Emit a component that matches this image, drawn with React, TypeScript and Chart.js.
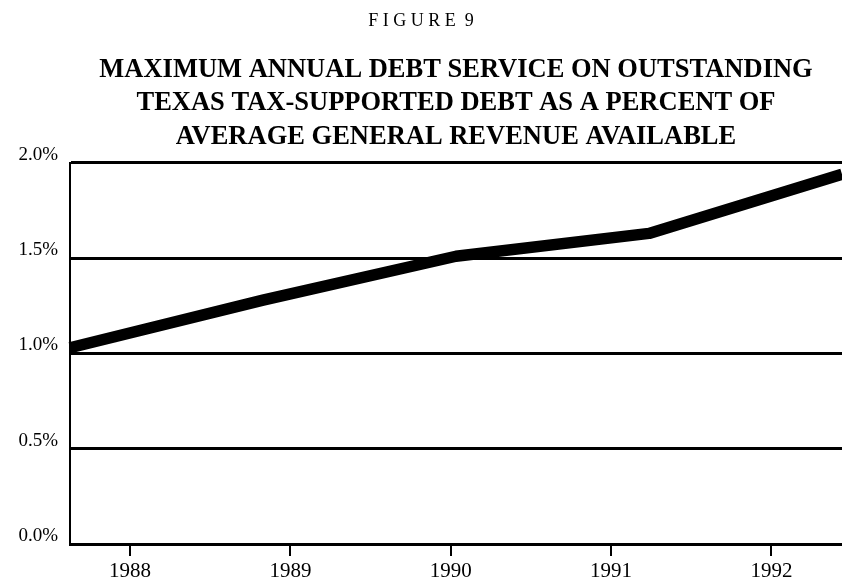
import React, { useEffect, useRef } from "react";
import { Chart, registerables } from "chart.js";

Chart.register(...registerables);

// Data
const fiscalYears = ["1988", "1989", "1990", "1991", "1992"];
const debtServicePct = [1.03, 1.28, 1.51, 1.63, 1.94];
const yearTicks = [1988, 1989, 1990, 1991, 1992];
const yTickValues = [0, 0.5, 1.0, 1.5, 2.0];
const figureLabel = "F I G U R E  9";
const titleLines = [
  "MAXIMUM ANNUAL DEBT SERVICE ON OUTSTANDING",
  "TEXAS TAX-SUPPORTED DEBT AS A PERCENT OF",
  "AVERAGE GENERAL REVENUE AVAILABLE",
];

const SERIF = "'Liberation Serif', 'DejaVu Serif', serif";

export default function App() {
  const ref = useRef<HTMLCanvasElement | null>(null);

  useEffect(() => {
    document.body.style.margin = "0";
    const canvas = ref.current;
    if (!canvas) return;
    const chart = new Chart(canvas, {
      type: "line",
      data: {
        labels: fiscalYears,
        datasets: [
          {
            data: debtServicePct,
            xAxisID: "xl",
            yAxisID: "y",
            borderColor: "#000",
            backgroundColor: "#000",
            borderWidth: 11.5,
            pointRadius: 0,
            tension: 0,
            borderJoinStyle: "round",
            borderCapStyle: "butt",
            fill: false,
          },
        ],
      },
      options: {
        responsive: false,
        animation: false,
        devicePixelRatio: 1,
        layout: { padding: { left: 0, right: 0, top: 0, bottom: 0 } },
        plugins: {
          legend: { display: false },
          tooltip: { enabled: false },
          title: {
            display: true,
            text: figureLabel,
            color: "#000",
            font: { family: SERIF, size: 18, weight: "normal", lineHeight: 1.2 },
            padding: { top: 10, bottom: 0 },
          },
          subtitle: {
            display: true,
            fullSize: false,
            text: titleLines,
            color: "#000",
            font: { family: SERIF, size: 26.5, weight: "bold", lineHeight: 1.264 },
            padding: { top: 21.6, bottom: 9.2 },
          },
        },
        scales: {
          xl: {
            type: "category",
            labels: fiscalYears,
            display: false,
            offset: false,
          },
          x: {
            type: "linear",
            position: "bottom",
            min: 1987.625,
            max: 1992.44,
            afterBuildTicks: (scale: any) => {
              scale.ticks = yearTicks.map((v) => ({ value: v }));
            },
            afterFit: (scale: any) => {
              scale.height = 40;
            },
            grid: {
              display: true,
              drawOnChartArea: false,
              drawTicks: true,
              tickLength: 12,
              color: "#000",
              lineWidth: 2,
            },
            border: { display: true, color: "#000", width: 3 },
            ticks: {
              color: "#000",
              padding: 3,
              maxRotation: 0,
              autoSkip: false,
              font: { family: SERIF, size: 21 },
              callback: (v: any) => String(v),
            },
          },
          y: {
            type: "linear",
            min: 0,
            max: 2,
            afterBuildTicks: (scale: any) => {
              scale.ticks = yTickValues.map((v) => ({ value: v }));
            },
            afterFit: (scale: any) => {
              scale.width = 70;
            },
            grid: {
              color: "#000",
              lineWidth: 3,
              drawTicks: false,
            },
            border: { display: true, color: "#000", width: 2 },
            ticks: {
              color: "#000",
              padding: 12,
              labelOffset: -8,
              font: { family: SERIF, size: 19 },
              callback: (v: any) => Number(v).toFixed(1) + "%",
            },
          },
        },
      },
    });
    return () => chart.destroy();
  }, []);

  return (
    <div style={{ width: 842, height: 584, background: "#fff" }}>
      <canvas ref={ref} width={842} height={584} style={{ display: "block" }} />
    </div>
  );
}
